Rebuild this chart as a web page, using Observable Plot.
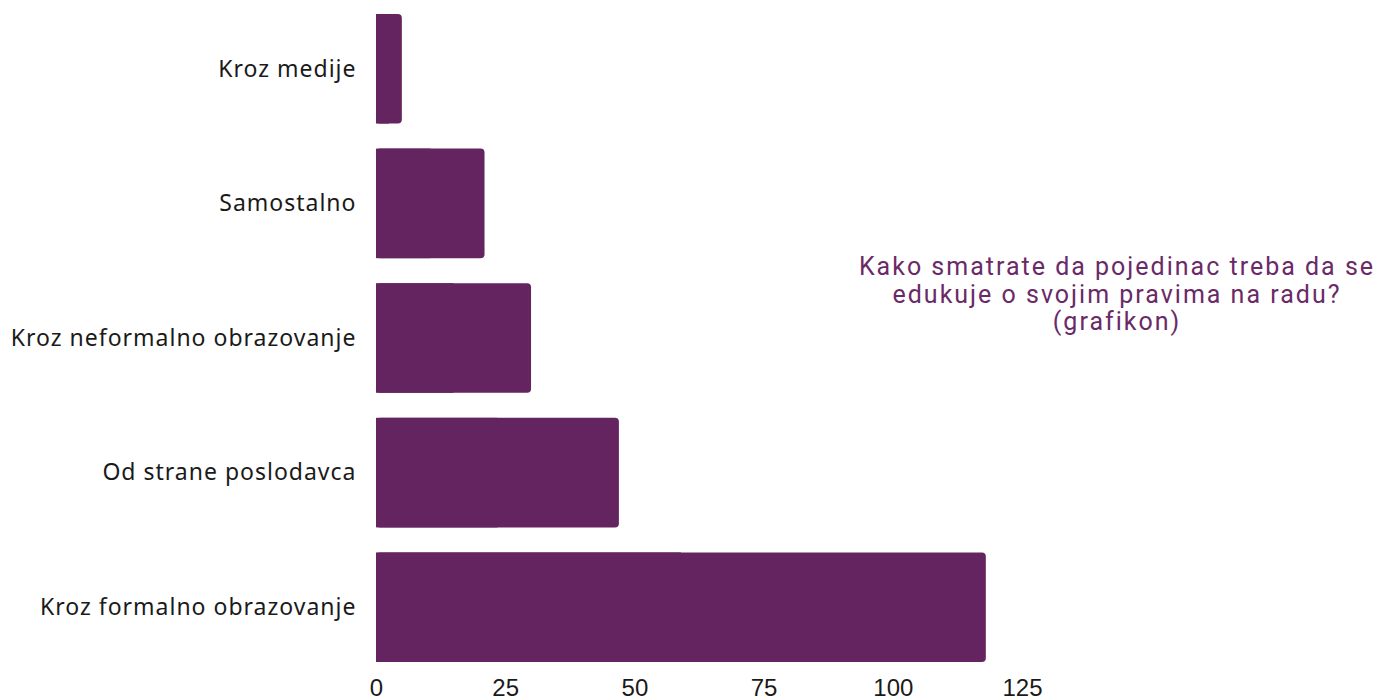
<!DOCTYPE html>
<html>
<head>
<meta charset="utf-8">
<script src="https://cdn.jsdelivr.net/npm/d3@7"></script>
<script src="https://cdn.jsdelivr.net/npm/@observablehq/plot@0.6"></script>
<style>
  html, body { margin: 0; padding: 0; background: #fff; }
  #wrap { position: relative; width: 1393px; height: 700px; overflow: hidden; }
  #title { position: absolute; left: 767px; width: 700px; top: 253px; text-align: center;
    font-family: Roboto, "Liberation Sans", sans-serif; font-size: 25px; line-height: 27.5px; letter-spacing: 2px; color: #6a2a68; }
  #title div { height: 27.5px; }
  .ylab text { font-family: "Noto Sans", Inter, sans-serif; letter-spacing: 1px; }
  .xlab text { font-family: "Liberation Sans Narrow", "Liberation Sans", sans-serif; font-stretch: condensed; }
</style>
</head>
<body>
<div id="wrap">
  <div id="chart"></div>
  <div id="title"><div>Kako smatrate da pojedinac treba da se</div><div>edukuje o svojim pravima na radu?</div><div>(grafikon)</div></div>
</div>
<script>
const categories = ["Kroz medije", "Samostalno", "Kroz neformalno obrazovanje", "Od strane poslodavca", "Kroz formalno obrazovanje"];
const values = [5, 21, 30, 47, 118];
const xTicks = [0, 25, 50, 75, 100, 125];

const data = categories.map((c, i) => ({category: c, value: values[i]}));
const color = "#64245f";

const chart = Plot.plot({
  width: 1393,
  height: 700,
  marginLeft: 376,
  marginRight: 371,
  marginTop: 14,
  marginBottom: 38,
  style: {background: "#fff", color: "#1a1a1a", overflow: "visible"},
  x: {domain: [0, 125], axis: null},
  y: {domain: categories, paddingInner: 0.186, paddingOuter: 0, round: false, axis: null},
  marks: [
    Plot.barX(data, {y: "category", x: "value", fill: color, rx: 4}),
    Plot.barX(data, {y: "category", x1: 0, x2: d => d.value / 2, fill: color}),
    Plot.axisY({className: "ylab", tickSize: 0, tickPadding: 20, fontSize: 23, label: null}),
    Plot.axisX({className: "xlab", ticks: xTicks, tickSize: 0, tickPadding: 16, fontSize: 24, label: null})
  ]
});
document.getElementById("chart").appendChild(chart);
</script>
</body>
</html>
